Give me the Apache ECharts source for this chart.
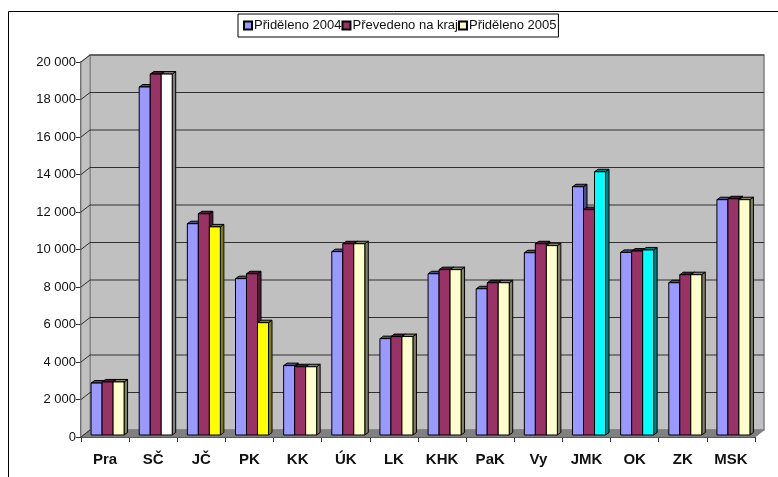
<!DOCTYPE html>
<html>
<head>
<meta charset="utf-8">
<style>
  html, body { margin: 0; padding: 0; background: #fff; }
  #chart { width: 778px; height: 477px; }
</style>
<script src="https://cdn.jsdelivr.net/npm/echarts@6/dist/echarts.min.js"></script>
</head>
<body>
<div id="chart"></div>
<script>
var categories = ['Pra', 'SČ', 'JČ', 'PK', 'KK', 'ÚK', 'LK', 'KHK', 'PaK', 'Vy', 'JMK', 'OK', 'ZK', 'MSK'];
var prideleno2004 = [2770, 18560, 11270, 8340, 3700, 9780, 5140, 8600, 7800, 9720, 13240, 9740, 8120, 12550];
var prevedeno = [2830, 19250, 11800, 8600, 3640, 10200, 5250, 8820, 8120, 10200, 12020, 9810, 8550, 12600];
var prideleno2005 = [2830, 19250, 11100, 5990, 3640, 10200, 5250, 8820, 8120, 10100, 14040, 9870, 8550, 12550];
var yTicks = [0, 2000, 4000, 6000, 8000, 10000, 12000, 14000, 16000, 18000, 20000];

// barvy - treti serie ma u nekterych kraju jinou barvu
var colors2005 = {'SČ': '#ffffff', 'JČ': '#ffff00', 'PK': '#ffff00', 'JMK': '#00ffff', 'OK': '#00ffff'};
var sideColors = {'#9999ff': '#4d4d80', '#993366': '#4d1a33', '#ffffcc': '#808066', '#ffffff': '#808080', '#ffff00': '#808000', '#00ffff': '#008080'};

var WALL_DX = 9, WALL_DY = -7;   // posun zadni steny
var BAR_DX = 2.5, BAR_DY = -2;   // posun sloupcu od predni hrany
var DEPTH_DX = 3.5, DEPTH_DY = -2.5;
var BAR_W = 11;

function poly(points, fill, stroke, width) {
  return {
    type: 'polygon',
    shape: {points: points},
    style: {fill: fill, stroke: stroke || null, lineWidth: width || 0}
  };
}

// steny a podlaha + mrizka na zadni stene
function renderWall(params, api) {
  var y = api.coord([0, api.value(0)])[1];
  var cs = params.coordSys;
  var left = cs.x, right = cs.x + cs.width;
  var bottom = cs.y + cs.height, top = cs.y;
  var children = [];
  if (params.dataIndex === 0) {
    children.push(poly([[left + WALL_DX, top + WALL_DY], [right + WALL_DX, top + WALL_DY], [right + WALL_DX, bottom + WALL_DY], [left + WALL_DX, bottom + WALL_DY]], '#c0c0c0', '#808080', 1.5));
    children.push(poly([[left, top], [left + WALL_DX, top + WALL_DY], [left + WALL_DX, bottom + WALL_DY], [left, bottom]], '#c0c0c0', '#808080', 1));
    children.push(poly([[left, bottom], [left + WALL_DX, bottom + WALL_DY], [right + WALL_DX, bottom + WALL_DY], [right, bottom]], '#808080', '#808080', 1));
  } else {
    children.push({
      type: 'line',
      shape: {x1: left + WALL_DX, y1: y + WALL_DY, x2: right + WALL_DX, y2: y + WALL_DY},
      style: {stroke: '#303030', lineWidth: 1}
    });
  }
  children.push({
    type: 'line',
    shape: {x1: left, y1: y, x2: left + WALL_DX, y2: y + WALL_DY},
    style: {stroke: '#303030', lineWidth: 1}
  });
  return {type: 'group', children: children};
}

function makeBarRender(offset, pickColor) {
  return function (params, api) {
    var idx = api.value(0);
    var p = api.coord([idx, api.value(1)]);
    var base = api.coord([idx, 0]);
    var x = p[0] + BAR_DX + (offset - 0.5) * BAR_W;
    var yTop = p[1] + BAR_DY;
    var yBot = base[1] + BAR_DY;
    var fill = pickColor(idx);
    var side = sideColors[fill];
    var x2 = x + BAR_W;
    return {
      type: 'group',
      children: [
        poly([[x2, yTop], [x2 + DEPTH_DX, yTop + DEPTH_DY], [x2 + DEPTH_DX, yBot + DEPTH_DY], [x2, yBot]], side, '#000', 1),
        poly([[x, yTop], [x + DEPTH_DX, yTop + DEPTH_DY], [x2 + DEPTH_DX, yTop + DEPTH_DY], [x2, yTop]], side, '#000', 1),
        poly([[x, yTop], [x2, yTop], [x2, yBot], [x, yBot]], fill, '#000', 1)
      ]
    };
  };
}

function barSeries(name, values, offset, color, pickColor) {
  return {
    type: 'custom',
    name: name,
    z: 5 + offset,
    silent: true,
    itemStyle: {color: color, borderColor: '#000', borderWidth: 1},
    data: values.map(function (v, i) { return [i, v]; }),
    encode: {x: 0, y: 1},
    renderItem: makeBarRender(offset, pickColor)
  };
}

var myChart = echarts.init(document.getElementById('chart'), null, {renderer: 'canvas'});
var option = {
  animation: false,
  backgroundColor: '#fff',
  textStyle: {fontFamily: '"Liberation Sans", Arial, sans-serif'},
  grid: {left: 81, right: 23, top: 62, bottom: 40},
  graphic: [
    {type: 'polyline', z: 0, silent: true, shape: {points: [[8.5, 477], [8.5, 11.5], [778, 11.5]]}, style: {fill: null, stroke: '#000', lineWidth: 1}}
  ],
  legend: {
    left: 238,
    top: 14,
    padding: [5, 2, 5, 5],
    itemGap: 0,
    itemWidth: 8,
    itemHeight: 8,
    icon: 'rect',
    backgroundColor: '#fff',
    borderColor: '#000',
    borderWidth: 1,
    selectedMode: false,
    textStyle: {fontSize: 13, color: '#111', padding: [0, 0, 0, -3], fontFamily: '"Liberation Sans", Arial, sans-serif'},
    data: ['Přiděleno 2004', 'Převedeno na kraj', 'Přiděleno 2005']
  },
  xAxis: {
    type: 'category',
    data: categories,
    boundaryGap: true,
    axisLine: {lineStyle: {color: '#303030', width: 1}},
    axisTick: {show: true, length: 5, lineStyle: {color: '#303030'}},
    axisLabel: {fontSize: 15, fontWeight: 'bold', color: '#111', margin: 15, interval: 0}
  },
  yAxis: {
    type: 'value',
    min: 0,
    max: 20000,
    interval: 2000,
    splitLine: {show: false},
    axisLine: {show: true, lineStyle: {color: '#606060', width: 2}},
    axisTick: {show: true, length: 5, lineStyle: {color: '#303030'}},
    axisLabel: {
      fontSize: 13,
      color: '#111',
      margin: 5,
      formatter: function (v) { return String(v).replace(/\B(?=(\d{3})+$)/g, ' '); }
    }
  },
  series: [
    {
      type: 'custom',
      name: 'wall',
      z: 1,
      silent: true,
      clip: false,
      data: yTicks.map(function (v) { return [v]; }),
      encode: {y: 0},
      renderItem: renderWall
    },
    barSeries('Přiděleno 2004', prideleno2004, -1, '#9999ff', function () { return '#9999ff'; }),
    barSeries('Převedeno na kraj', prevedeno, 0, '#993366', function () { return '#993366'; }),
    barSeries('Přiděleno 2005', prideleno2005, 1, '#ffffcc', function (i) { return colors2005[categories[i]] || '#ffffcc'; })
  ]
};
myChart.setOption(option);
</script>
</body>
</html>
